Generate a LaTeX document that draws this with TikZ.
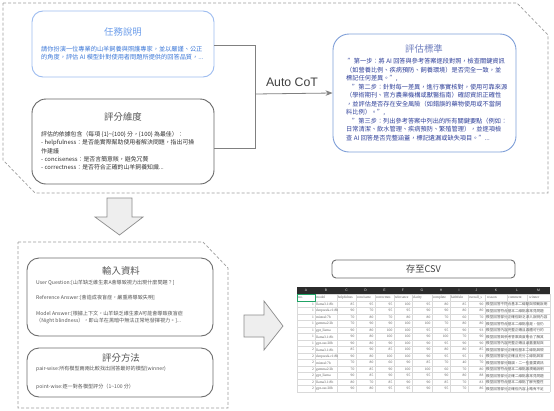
\documentclass[tikz,border=0pt]{standalone}
\usepackage{fontspec}
\setmainfont{Noto Sans CJK TC}
\newfontfamily\arialf{Liberation Sans}
\newfontfamily\tabf{Liberation Serif}
\usetikzlibrary{arrows.meta}
\definecolor{dashc}{HTML}{9E9E9E}
\definecolor{taskb}{HTML}{9DBCF0}
\definecolor{taskt}{HTML}{6D9EEB}
\definecolor{taskx}{HTML}{3C78D8}
\definecolor{critb}{HTML}{7F9FD8}
\definecolor{critt}{HTML}{6F7FBF}
\definecolor{critx}{HTML}{2E3F99}
\definecolor{dimb}{HTML}{666666}
\definecolor{dimt}{HTML}{555555}
\definecolor{dimx}{HTML}{333333}
\definecolor{inb}{HTML}{6E6E6E}
\definecolor{inx}{HTML}{555555}
\definecolor{connc}{HTML}{808080}
\definecolor{tipc}{HTML}{505050}
\definecolor{bafill}{HTML}{EEEEEE}
\definecolor{baline}{HTML}{8C8C8C}
\definecolor{hdrbar}{HTML}{2B2B2B}
\definecolor{gridc}{HTML}{D9D9D9}
\definecolor{cellc}{HTML}{5A5A5A}
\definecolor{selg}{HTML}{21A366}
\tikzset{
  container/.style={draw=dashc, dash pattern=on 3pt off 2pt, line width=0.7pt},
  rbox/.style={line width=0.9pt, inner sep=0pt, fill=white},
  titletxt/.style={font=\fontsize{9.4}{11}\selectfont, inner sep=0pt},
  bodytxt/.style={anchor=north west, align=left, inner sep=0pt},
  conn/.style={draw=connc, line width=0.8pt},
  blockarrow/.style={fill=bafill, draw=baline, line width=0.7pt, line join=miter},
  gridline/.style={draw=gridc, line width=0.3pt},
  celltxt/.style={font=\tabf\fontsize{3.6}{4}\selectfont, text=cellc, inner sep=0pt},
  cellcjk/.style={font=\fontsize{3.6}{4}\selectfont, text=cellc, inner sep=0pt},
  hdrtxt/.style={font=\arialf\fontsize{3.4}{4}\selectfont, text=white!85!black, inner sep=0pt}
}
\begin{document}
\begin{tikzpicture}[x=1pt,y=-1pt]
\useasboundingbox[fill=white] (0,0) rectangle (554,410);

% dashed containers
\draw[container] (3,3) -- (517,3) -- (548,35) -- (548,193) -- (35,193) -- (3,160) -- cycle;
\draw[container] (18,242) -- (203,242) -- (228,268) -- (228,408) -- (18,408) -- cycle;

% task description
\node[rbox, draw=taskb, minimum width=182pt, minimum height=66pt, rounded corners=11pt] (task) at (123,44) {};
\node[titletxt, text=taskt] (taskT) at (123,32) {任務說明};
\node[bodytxt, text=taskx, font=\fontsize{6.2}{8.4}\selectfont] (taskB) at (41,46)
 {請你扮演一位專業的山羊飼養與照護專家，並以嚴謹、公正\\的角度，評估 AI 模型針對使用者問題所提供的回答品質，...};

% scoring dimensions
\node[rbox, draw=dimb, minimum width=182pt, minimum height=85pt, rounded corners=14pt] (dim) at (123,141.5) {};
\node[titletxt, text=dimt] (dimT) at (123,117) {評分維度};
\node[bodytxt, text=dimx, font=\fontsize{5.9}{8.4}\selectfont] (dimB) at (41,131)
 {評估的依據包含（每項 \{1\}\textasciitilde\{100\} 分，\{100\} 為最佳）：\\
 - helpfulness：是否能實際幫助使用者解決問題，指出可操\\
 作建議\\
 - conciseness：是否言簡意賅，避免冗贅\\
 - correctness：是否符合正確的山羊飼養知識...};

% evaluation criteria
\node[rbox, draw=critb, minimum width=183pt, minimum height=118pt, rounded corners=16pt] (crit) at (424.5,93) {};
\node[titletxt, text=critt] (critT) at (424,49) {評估標準};
\node[bodytxt, text=critx, font=\fontsize{6.2}{8.55}\selectfont] (critB) at (346,58)
 {\hspace*{1.5pt}"第一步：將 AI 回答與參考答案逐段對照，檢查關鍵資訊\\
 （如營養比例、疾病預防、飼養環境）是否完全一致，並\\
 標記任何差異。",\\
 \hspace*{6pt}"第二步：針對每一差異，進行事實核對，使用可靠來源\\
 （學術期刊、官方農業機構或獸醫指南）確認資訊正確性\\
 ，並評估是否存在安全風險（如錯誤的藥物使用或不當飼\\
 料比例）。",\\
 \hspace*{6pt}"第三步：列出參考答案中列出的所有關鍵要點（例如：\\
 日常清潔、飲水管理、疾病預防、繁殖管理），並逐項檢\\
 查 AI 回答是否完整涵蓋，標記遺漏或缺失項目。"...};

% connectors
\coordinate (jtop) at (255,45);
\coordinate (jbot) at (255,148);
\coordinate (jmid) at (255,94);
\coordinate (dimport) at (214,148);
\coordinate (taskport) at (214,45);
\draw[conn] (taskport) -- (jtop) -- (jbot) -- (dimport);
\draw[conn, -{Stealth[length=7pt,width=5.5pt]}, color=connc] (jmid) -- (crit.west);
\node[font=\arialf\fontsize{12.3}{14}\selectfont, text=black!75, inner sep=0pt] (autocot) at (292,82) {Auto CoT};

% block arrows
\draw[blockarrow] (107,198) -- (132,198) -- (132,217) -- (143,217) -- (119.5,235) -- (95,217) -- (107,217) -- cycle;
\draw[blockarrow] (244,315) -- (264,315) -- (264,301) -- (283,326) -- (264,350) -- (264,337) -- (244,337) -- cycle;

% input data
\node[rbox, draw=inb, minimum width=186pt, minimum height=78pt, rounded corners=12pt] (inp) at (120,297) {};
\node[titletxt, text=inx] (inpT) at (121,271) {輸入資料};
\node[bodytxt, text=inx, font=\fontsize{5.1}{7}\selectfont] (inpB) at (36,279.5)
 {User Question:[山羊缺乏維生素A會導致視力出現什麼問題？]\\[8pt]
 Reference Answer:[會造成夜盲症，嚴重將導致失明]\\[9pt]
 Model Answer:[根據上下文，山羊缺乏維生素A可能會導致夜盲症\\
 （Night blindness），即山羊在黑暗中無法正常地發揮視力。]...};

% scoring method
\node[rbox, draw=inb, minimum width=186pt, minimum height=49pt, rounded corners=12pt] (meth) at (120,372.5) {};
\node[titletxt, text=inx] (methT) at (121,357.5) {評分方法};
\node[bodytxt, text=inx, font=\fontsize{5.1}{7}\selectfont] (methB) at (36,365.5)
 {pair-wise:所有模型兩兩比較找出回答最好的模型(winner)\\[11pt]
 point-wise:逐一對各模型評分（1\textasciitilde100 分）};

% save to csv
\node[rbox, draw=inb, minimum width=183pt, minimum height=18pt, rounded corners=4pt,
      font=\fontsize{9.2}{11}\selectfont, text=black!75] (csv) at (423.5,269) {存至CSV};

% spreadsheet
\fill[hdrbar] (297,287) rectangle (550,294);
\foreach \xl/\xr/\c in {297/315/A,315/337/B,337/356/C,356/375/D,375/394/E,394/412/F,412/432/G,432/450/H,450/468/I,468/485/J,485/507/K,507/527/L,527/550/M}{
  \node[hdrtxt] (h-\c) at ({(\xl+\xr)/2},290.6) {\c};
  \draw[gridline] (\xr,294) -- (\xr,392);
}
\draw[gridline] (297,294) -- (297,392);
\draw[gridline] (297,294) -- (550,294);
\foreach \r in {0,...,14}{ \draw[gridline] (297,{301+\r*6.5}) -- (550,{301+\r*6.5}); }

% column A
\node[celltxt, anchor=west] (r0-A) at (298,297.6) {no.};
\foreach \v [count=\r] in {1,1,1,1,1,1,1,2,2,2,2,2,2,2}{
  \node[celltxt, anchor=east] (r\r-A) at (314,{297.8+\r*6.5}) {\v};
}
% column B
\begin{scope}
\clip (315,294) rectangle (337,392);
\node[celltxt, anchor=west] (r0-B) at (316,297.6) {model};
\foreach \v [count=\r] in {llama3.1:8b,deepseek-r1:8b,mistral:7b,gemma2:2b,gpt\_llama,llama3.1:8b,gpt-oss:20b,llama3.1:8b,deepseek-r1:8b,mistral:7b,gemma2:2b,gpt\_llama,llama3.1:8b,gpt-oss:20b}{
  \node[celltxt, anchor=west] (r\r-B) at (316,{297.8+\r*6.5}) {\v};
}
\end{scope}
% numeric columns
\foreach \xl/\xr/\c/\hd/\vals in {
  337/356/C/helpfulnes/{85,90,70,70,90,90,90,85,90,70,70,90,80,90},
  356/375/D/concisene/{95,70,80,90,80,80,80,90,80,80,85,85,70,80},
  375/394/E/correctnes/{95,95,70,90,100,100,90,85,100,60,90,90,85,95},
  394/412/F/relevance/{100,95,80,100,100,100,100,100,100,90,100,95,90,95},
  412/432/G/clarity/{95,90,80,100,95,90,90,90,90,85,100,95,90,90},
  432/450/H/complete/{80,90,70,70,95,100,95,80,95,70,60,90,85,95},
  450/468/I/faithfuln/{85,80,60,80,90,70,90,80,95,40,70,80,70,70},
  468/485/J/overall\_s/{90,80,70,80,93,90,90,85,91,70,80,88,83,86}}{
  \begin{scope}
  \clip (\xl,294) rectangle (\xr,392);
  \node[celltxt, anchor=west] (r0-\c) at (\xl+0.6,297.6) {\hd};
  \foreach \v [count=\r] in \vals {
    \node[celltxt, anchor=east] (r\r-\c) at (\xr-1.5,{297.8+\r*6.5}) {\v};
  }
  \end{scope}
}
% text columns
\node[celltxt, anchor=west] (r0-K) at (487,297.6) {reason};
\node[celltxt, anchor=west] (r0-L) at (508,297.6) {comment};
\node[celltxt, anchor=west] (r0-M) at (529,297.6) {winner};
\begin{scope}
\clip (485,301) rectangle (550,392);
\foreach \v [count=\r] in {模型回答不符合基本二線點與規範說明,模型回答符合基本二線點與常見問題,模型回答部分正確但缺乏深入說明內容,模型回答符合基本二線點但是，但仍,模型回答內容完整正確且具體可行的,模型回答與參考答案高度吻合了解其,模型回答內容完整正確且涵蓋重點與,模型回答部分正確但基本二線點與規,模型回答部分正確且充分二線點與常,模型回答部分錯誤，二一些重要資訊,模型回答符合基本二線點與規範說明,模型回答部分正確二線點與常見問題,模型回答符合基本二線點了解完整性,模型回答部分正確但內容上略有不足}{
  \node[cellcjk, anchor=west] (r\r-K) at (486,{297.8+\r*6.5}) {\v};
}
\end{scope}
\draw[selg, line width=0.6pt] (297,294) rectangle (315,301);
\end{tikzpicture}
\end{document}
